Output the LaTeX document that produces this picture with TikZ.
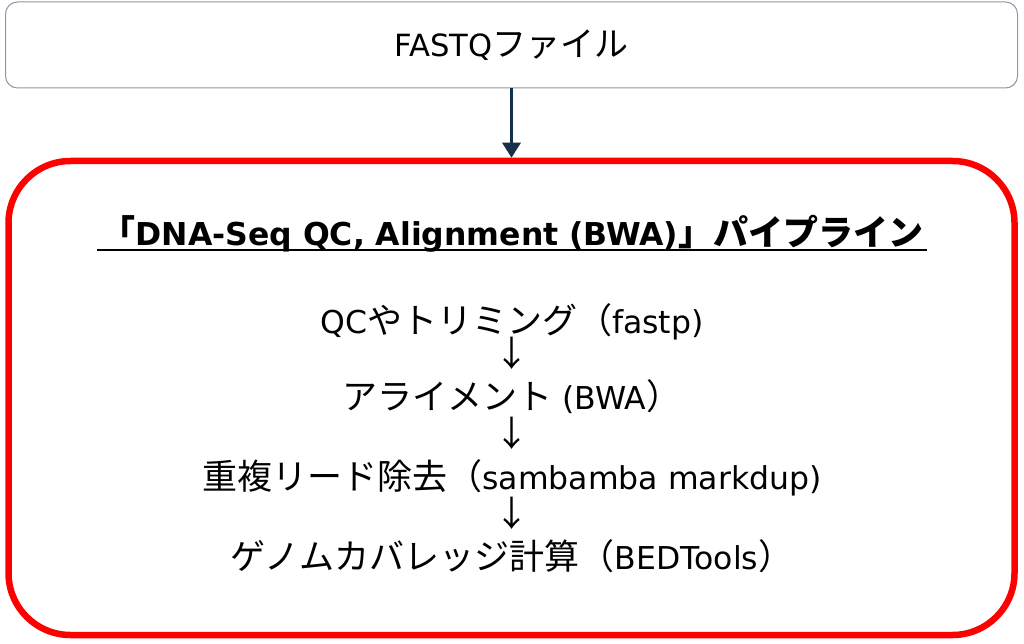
\documentclass[tikz,border=0pt]{standalone}
\usepackage{fontspec}
\setmainfont{DejaVu Sans}[Scale=0.9]
\newfontfamily\jp{Noto Sans CJK JP}
\usetikzlibrary{arrows.meta}
\definecolor{box_gray}{RGB}{140,152,165}
\definecolor{pipe_red}{RGB}{255,0,0}
\definecolor{arrow_navy}{RGB}{22,48,74}
\newcommand{\ja}[1]{{\jp #1}}

\begin{document}
\begin{tikzpicture}[x=1pt,y=-1pt,>={Triangle[length=15pt,width=18pt]}]
    \tikzstyle{box}=[draw=box_gray, line width=1pt, rounded corners=12pt, minimum width=1012pt, minimum height=86pt, fill=white, inner sep=0pt]
    \tikzstyle{pipe}=[draw=pipe_red, line width=6.5pt, rounded corners=62pt, minimum width=1006pt, minimum height=474pt, inner sep=0pt]
    \tikzstyle{stage}=[anchor=base, inner sep=0pt, font=\fontsize{35}{42}\selectfont]
    \tikzstyle{title}=[stage, font=\fontsize{35}{42}\selectfont\bfseries]

    \useasboundingbox (0,0) rectangle (1024,644);

    \node[box, font=\fontsize{34}{40}\selectfont] (fastq) at (511.5,45) {FASTQ\ja{ファイル}};
    \node[pipe] (pipeline) at (511.5,398) {};

    \node[title] (head)  at (512,245) {\ja{「}DNA-Seq QC, Alignment (BWA)\ja{」パイプライン}};
    \node[stage] (qc)    at (512,333) {QC\ja{やトリミング（}fastp)};
    \node[stage] (a1)    at (512,366) {\ja{↓}};
    \node[stage] (align) at (512,409) {\ja{アライメント} (BWA\ja{）}};
    \node[stage] (a2)    at (512,446) {\ja{↓}};
    \node[stage] (dedup) at (512,489) {\ja{重複リード除去（}sambamba markdup)};
    \node[stage] (a3)    at (512,526) {\ja{↓}};
    \node[stage] (cov)   at (512,569) {\ja{ゲノムカバレッジ計算（}BEDTools\ja{）}};

    % underline of the title
    \draw[line width=2.5pt] ([shift={(-3pt,-5pt)}]head.base west) -- ([shift={(3pt,-5pt)}]head.base east);

    \path
     (fastq) edge[->, arrow_navy, line width=3pt] (pipeline)
     ;
\end{tikzpicture}
\end{document}
